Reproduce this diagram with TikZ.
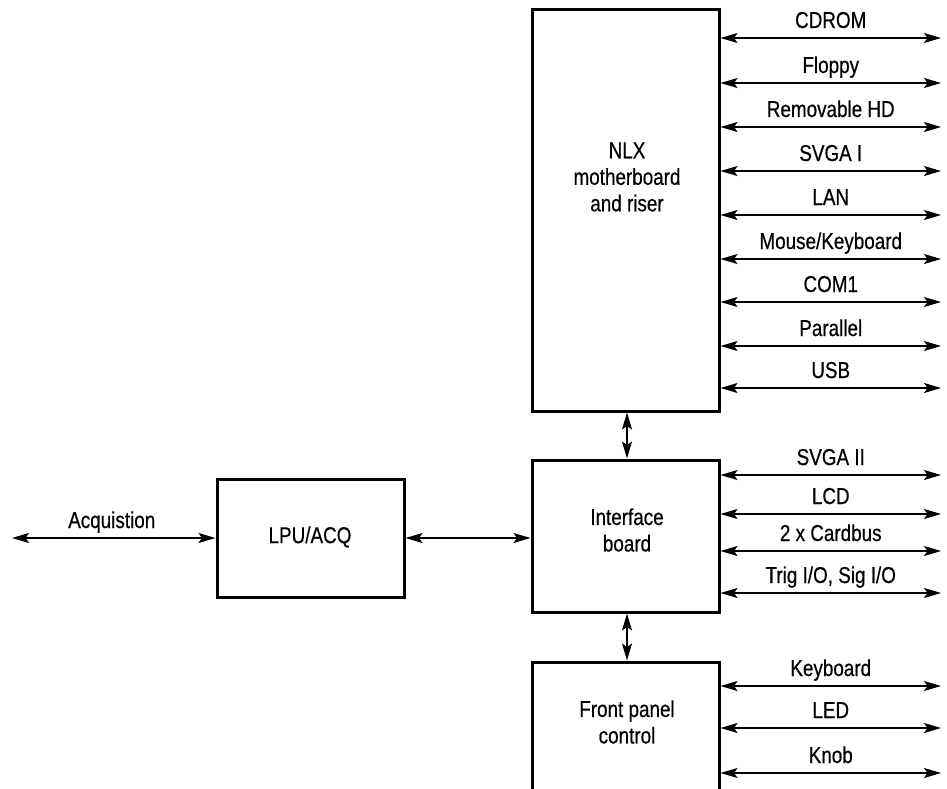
\documentclass[tikz,border=0pt]{standalone}
\usepackage{fontspec}
\setmainfont{Liberation Sans}[FakeStretch=0.82,FakeBold=0.5]
\usetikzlibrary{arrows.meta}
\begin{document}
\begin{tikzpicture}[x=1pt,y=-1pt,
  box/.style={draw, line width=3pt, inner sep=0pt},
  txt/.style={font=\fontsize{23}{26.5}\selectfont, align=center, inner sep=0pt},
  lbl/.style={font=\fontsize{23}{26}\selectfont, anchor=base, inner sep=0pt, yshift=10pt},
  biarrow/.style={line width=1.3pt, {Stealth[length=17pt,width=10pt,inset=3.5pt]}-{Stealth[length=17pt,width=10pt,inset=3.5pt]}}
]
\useasboundingbox (0,0) rectangle (947,789);
\clip (0,0) rectangle (947,789);
% boxes
\node[box, minimum width=187pt, minimum height=401pt] (nlx) at (625.5,210.5) {};
\node[box, minimum width=187pt, minimum height=152pt] (intf) at (625.5,536) {};
\node[box, minimum width=187pt, minimum height=160pt] (fp) at (625.5,742) {};
\node[box, minimum width=187pt, minimum height=118pt] (lpu) at (310.5,538) {};
% box texts
\node[txt] (nlxt) at (627,177) {NLX\\motherboard\\and riser};
\node[txt] (intft) at (627,530) {Interface\\board};
\node[txt] (fpt) at (627,722) {Front panel\\control};
\node[txt] (lput) at (310,537) {LPU/ACQ};
% right side ends
\foreach \n/\y/\t in {a/38/CDROM, b/83/Floppy, c/127/Removable HD, d/171/SVGA I, e/215/LAN, f/259/{Mouse/Keyboard}, g/302/COM1, h/346/Parallel, i/388/USB}{
  \coordinate (r\n) at (941,\y);
  \draw[biarrow] (r\n -| nlx.east) -- (r\n) node[lbl, midway] {\t};
}
\foreach \n/\y/\t in {j/475/SVGA II, k/514/LCD, l/551/2 x Cardbus, m/593/{Trig I/O, Sig I/O}}{
  \coordinate (r\n) at (941,\y);
  \draw[biarrow] (r\n -| intf.east) -- (r\n) node[lbl, midway] {\t};
}
\foreach \n/\y/\t in {n/686/Keyboard, o/728/LED, p/773/Knob}{
  \coordinate (r\n) at (941,\y);
  \draw[biarrow] (r\n -| fp.east) -- (r\n) node[lbl, midway] {\t};
}
% vertical links
\draw[biarrow] (nlx.south -| 627,0) -- (intf.north -| 627,0);
\draw[biarrow] (intf.south -| 627,0) -- (fp.north -| 627,0);
% left links
\coordinate (acq) at (12,538);
\draw[biarrow] (acq) -- (lpu.west) node[lbl, pos=0.5, xshift=-2pt] {Acquistion};
\draw[biarrow] (lpu.east) -- (intf.west |- lpu.east);
\end{tikzpicture}
\end{document}
